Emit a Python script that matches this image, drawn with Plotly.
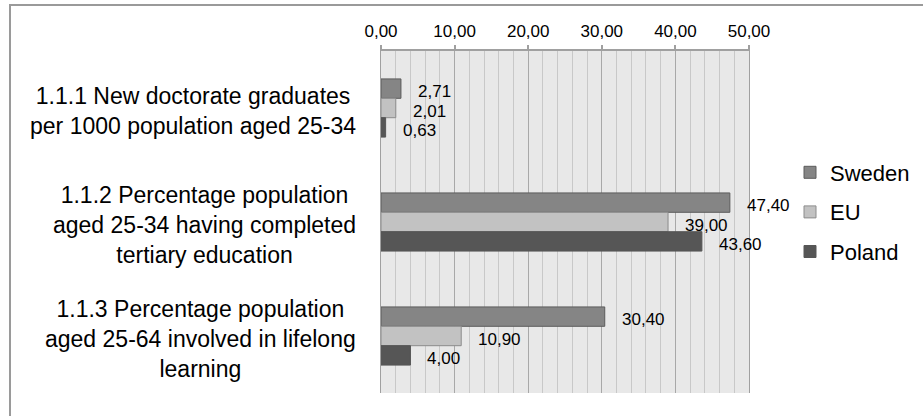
import plotly.graph_objects as go

categories = [
    "1.1.1 New doctorate graduates<br>per 1000 population aged 25-34",
    "1.1.2 Percentage population<br>aged 25-34 having completed<br>tertiary education",
    "1.1.3 Percentage population<br>aged 25-64 involved in lifelong<br>learning",
]
series_names = ["Sweden", "EU", "Poland"]
sweden = [2.71, 47.40, 30.40]
eu = [2.01, 39.00, 10.90]
poland = [0.63, 43.60, 4.00]
x_ticks = [0, 10, 20, 30, 40, 50]

values = [sweden, eu, poland]
fills = ["#858585", "#c2c2c2", "#565656"]
lines = ["#5c5c5c", "#8c8c8c", "#565656"]

FONT = "Liberation Sans, Arial, sans-serif"
W, H = 923, 416
L, R, T, B = 381, 174, 51, 23
BARGAP = 0.49
n = len(series_names)
bar_w = (1 - BARGAP) / n

ypos = list(range(len(categories)))

fig = go.Figure()
for i, (name, vals) in enumerate(zip(series_names, values)):
    fig.add_trace(go.Bar(
        name=name, y=ypos, x=vals, orientation="h",
        marker=dict(color=fills[i], line=dict(color=lines[i], width=1)),
        legendgroup=name, hoverinfo="skip",
    ))

annotations = []
for i, vals in enumerate(values):
    off = (i - (n - 1) / 2) * bar_w
    for j, v in enumerate(vals):
        annotations.append(dict(
            x=v, y=j + off, xref="x", yref="y",
            text=f"{v:.2f}".replace(".", ","),
            showarrow=False, xanchor="left", yanchor="middle",
            xshift=15, yshift=-3,
            font=dict(family=FONT, size=17, color="#000000"),
        ))
for j, c in enumerate(categories):
    annotations.append(dict(
        x=0, y=j, xref="x", yref="y", text=c, showarrow=False,
        xanchor="right", yanchor="middle", align="center",
        xshift=-23, yshift=-3,
        font=dict(family=FONT, size=23, color="#000000"),
    ))

shapes = [dict(
    type="rect", xref="paper", yref="paper",
    x0=(10 - L) / (W - L - R), x1=(940 - L) / (W - L - R),
    y0=(H - B - 430) / (H - T - B), y1=(H - B - 5) / (H - T - B),
    line=dict(color="#9a9a9a", width=2), fillcolor="rgba(0,0,0,0)", layer="below",
)]

fig.update_layout(
    width=W, height=H,
    margin=dict(l=L, r=R, t=T, b=B, autoexpand=False),
    paper_bgcolor="#ffffff", plot_bgcolor="#e8e8e8",
    barmode="group", bargap=BARGAP, bargroupgap=0,
    separators=",.",
    font=dict(family=FONT, color="#000000"),
    showlegend=True,
    legend=dict(
        x=(790 - L) / (W - L - R), xanchor="left",
        y=(H - B - 212) / (H - T - B), yanchor="middle",
        font=dict(family=FONT, size=22, color="#000000"),
        bgcolor="rgba(0,0,0,0)", tracegroupgap=8, traceorder="grouped",
    ),
    annotations=annotations, shapes=shapes,
    xaxis=dict(
        side="top", range=[0, 50], tickvals=x_ticks, tickformat=".2f",
        showgrid=True, gridcolor="#a8a8a8", gridwidth=1,
        minor=dict(dtick=2, showgrid=True, gridcolor="#c8c8c8", gridwidth=1, ticks=""),
        showline=True, linecolor="#a0a0a0", linewidth=2,
        ticks="outside", ticklen=4, tickcolor="#a0a0a0", tickwidth=2,
        tickfont=dict(family=FONT, size=17, color="#000000"),
        ticklabelstandoff=1,
        zeroline=False, automargin=False, fixedrange=True,
    ),
    yaxis=dict(
        range=[len(categories) - 0.5, -0.5], showticklabels=False,
        showgrid=False, zeroline=False,
        showline=True, mirror=True, linecolor="#a0a0a0", linewidth=1,
        ticks="", automargin=False, fixedrange=True,
    ),
)

fig.write_html("out.html")
